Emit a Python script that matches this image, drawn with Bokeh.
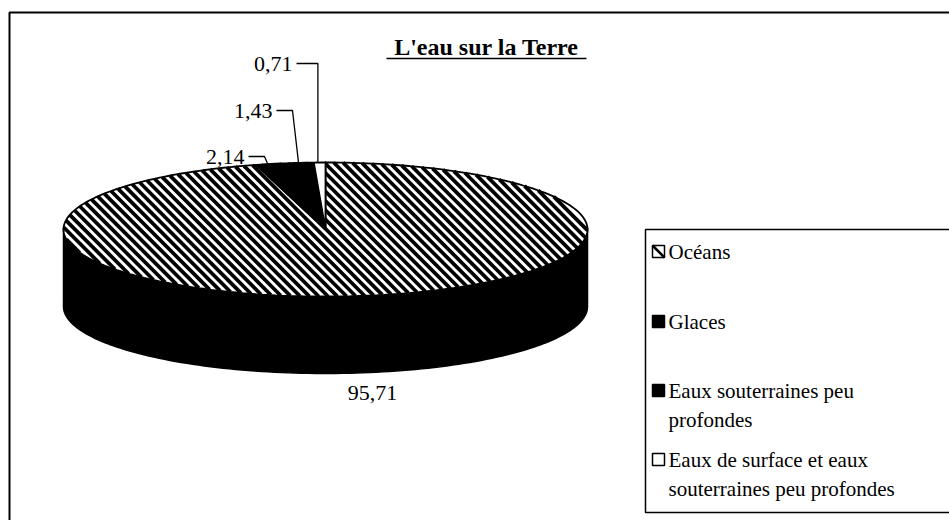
import numpy as np
from bokeh.plotting import figure
from bokeh.models import Range1d
from bokeh.embed import file_html
from bokeh.resources import INLINE
from bokeh.core.properties import value

# ---------------- data ----------------
title_text = "L'eau sur la Terre"
categories = ["Océans", "Glaces", "Eaux souterraines peu profondes",
              "Eaux de surface et eaux souterraines peu profondes"]
values = [95.71, 2.14, 1.43, 0.71]
value_labels = ["95,71", "2,14", "1,43", "0,71"]
legend_texts = ["Océans", "Glaces", " Eaux souterraines peu\nprofondes",
                "Eaux de surface et eaux\nsouterraines peu profondes"]

# ---------------- styles / layout ----------------
top_fill = ["white", "black", "black", "white"]
top_hatched = [True, False, False, False]
FONT = "Liberation Serif"
W, H = 949, 520
cx, cy, rx, ry, depth = 325, 229, 262, 67, 77
hatch_period, hatch_width = 9.3, 3.7
anchor_frac = 0.35
label_layout = [(372, 392, "center"), (244, 156, "right"), (272, 110, "right"), (292, 63, "right")]
legend_item_y = [251, 321, 390, 459]
legend_line_gap = 29

p = figure(width=W, height=H, output_backend="svg", toolbar_location=None,
           x_range=Range1d(0, W), y_range=Range1d(H, 0),
           min_border=0, outline_line_color=None)
p.axis.visible = False
p.grid.visible = False
p.background_fill_color = "white"
p.border_fill_color = "white"

# outer frame (left and top edges visible)
p.line([9, 9, W], [H, 12, 12], line_color="black", line_width=2)

# title
p.text([486], [46], text=[title_text], text_font=value(FONT), text_font_style="bold",
       text_font_size="24px", text_align="center", text_baseline="middle", text_color="black")
p.line([386, 586], [58, 58], line_color="black", line_width=1.6)

# ---------------- pie ----------------
total = sum(values)
cum = np.concatenate([[0], np.cumsum(values)]) / total * 2 * np.pi


def arc(a0, a1, n=120):
    t = np.linspace(a0, a1, max(3, int(n * (a1 - a0) / np.pi) + 3))
    return cx + rx * np.sin(t), cy - ry * np.cos(t)


# side walls (front half: pi/2 .. 3pi/2)
for i in range(len(values)):
    a0 = max(cum[i], np.pi / 2)
    a1 = min(cum[i + 1], 3 * np.pi / 2)
    if a1 <= a0:
        continue
    x, y = arc(a0, a1)
    xs = list(x) + list(x[::-1])
    ys = list(y) + list(y[::-1] + depth)
    p.patch(xs, ys, fill_color="black", line_color="black", line_width=1.5)

# top surface: hatched slice first (white), hatch lines clipped to ellipse, then others
for i in range(len(values)):
    if not top_hatched[i]:
        continue
    x, y = arc(cum[i], cum[i + 1])
    p.patch([cx] + list(x) + [cx], [cy] + list(y) + [cy], fill_color="white", line_color=None)

# hatch lines y = x + c ("\\" direction on screen)
A = 1 / rx ** 2 + 1 / ry ** 2
dmax = np.sqrt(rx ** 2 + ry ** 2)
hx0, hy0, hx1, hy1 = [], [], [], []
for d in np.arange(-dmax, dmax, hatch_period):
    B = 2 * d / ry ** 2
    C = d ** 2 / ry ** 2 - 1
    disc = B * B - 4 * A * C
    if disc <= 0:
        continue
    u1 = (-B - np.sqrt(disc)) / (2 * A)
    u2 = (-B + np.sqrt(disc)) / (2 * A)
    hx0.append(cx + u1); hy0.append(cy + u1 + d)
    hx1.append(cx + u2); hy1.append(cy + u2 + d)
p.segment(hx0, hy0, hx1, hy1, line_color="black", line_width=hatch_width)

for i in range(len(values)):
    x, y = arc(cum[i], cum[i + 1])
    xs = [cx] + list(x) + [cx]
    ys = [cy] + list(y) + [cy]
    if top_hatched[i]:
        p.patch(xs, ys, fill_color=None, line_color="black", line_width=1.8)
    else:
        p.patch(xs, ys, fill_color=top_fill[i], line_color="black", line_width=1.8)

# value labels and leader lines
for i in range(len(values)):
    lx, ly, al = label_layout[i]
    p.text([lx], [ly], text=[value_labels[i]], text_font=value(FONT), text_font_size="22px",
           text_align=al, text_baseline="middle", text_color="black")
    if i > 0:
        ang = cum[i] + anchor_frac * (cum[i + 1] - cum[i])
        axp = cx + rx * np.sin(ang)
        ayp = cy - ry * np.cos(ang)
        ex = lx + 20 if i != 3 else axp
        p.line([lx + 4, ex, axp], [ly, ly, ayp], line_color="black", line_width=1.3)

# ---------------- legend ----------------
bx0, by0, by1 = 645, 229, 512
p.line([W, bx0, bx0, W], [by0, by0, by1, by1], line_color="black", line_width=1.5)

for i, txt in enumerate(legend_texts):
    yc = legend_item_y[i]
    sx0, sx1 = 652, 664
    sy0, sy1 = yc - 6, yc + 6
    p.quad(left=[sx0], right=[sx1], top=[sy0], bottom=[sy1], fill_color=top_fill[i],
           line_color="black", line_width=1.5)
    if top_hatched[i]:
        # single diagonal stripe in the swatch
        p.segment([sx0], [sy0], [sx1], [sy1], line_color="black", line_width=2.5)
    for j, line in enumerate(txt.split("\n")):
        p.text([668], [yc + j * legend_line_gap], text=[line], text_font=value(FONT),
               text_font_size="21px", text_align="left", text_baseline="middle", text_color="black")

open("out.html", "w").write(file_html(p, INLINE))
